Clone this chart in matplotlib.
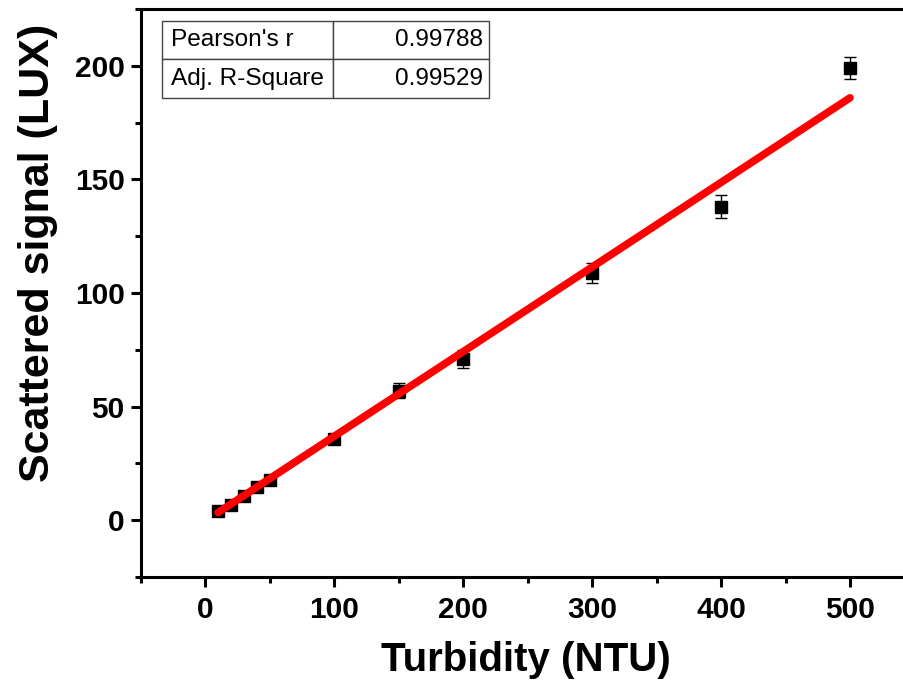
import numpy as np
import matplotlib
matplotlib.use("Agg")
from matplotlib import pyplot as plt
from matplotlib.ticker import MultipleLocator

plt.rcParams['font.family'] = ['Liberation Sans', 'DejaVu Sans']

# data
turbidity = [10, 20, 30, 40, 50, 100, 150, 200, 300, 400, 500]
signal = [4.0, 6.7, 10.8, 14.8, 17.7, 35.6, 57.0, 70.8, 109.0, 138.0, 199.0]
signal_err = [0.6, 0.6, 0.7, 0.7, 0.8, 1.2, 3.2, 4.0, 4.4, 5.0, 4.8]

# linear fit as drawn (Origin, weighted)
fit_slope = 0.3725
fit_intercept = -0.33
fit_range = [10, 500]

stat_names = ["Pearson's r", "Adj. R-Square"]
stat_values = ["0.99788", "0.99529"]

fig = plt.figure(figsize=(9.04, 6.84), dpi=100)
ax = fig.add_axes([0.1556, 0.1564, 0.856, 0.8304])

xf = np.array(fit_range, dtype=float)
ax.plot(xf, fit_slope * xf + fit_intercept, color='#ff0000', lw=5.5,
        solid_capstyle='round', zorder=3)
ax.errorbar(turbidity, signal, yerr=signal_err, fmt='s', color='black',
            ms=8.5, ecolor='black', elinewidth=1.0, capsize=4, capthick=1.0,
            zorder=2)

ax.set_xlim(-50, 550)
ax.set_ylim(-25, 225)
ax.xaxis.set_major_locator(MultipleLocator(100))
ax.xaxis.set_minor_locator(MultipleLocator(50))
ax.yaxis.set_major_locator(MultipleLocator(50))
ax.yaxis.set_minor_locator(MultipleLocator(25))

for s in ax.spines.values():
    s.set_linewidth(2.2)
ax.tick_params(which='major', direction='out', length=7.5, width=2.2,
               labelsize=21.5, pad=4)
ax.tick_params(axis='x', which='major', pad=6)
ax.tick_params(which='minor', direction='out', length=4, width=2.2)
for lab in ax.get_xticklabels() + ax.get_yticklabels():
    lab.set_fontweight('bold')

fig.text(0.582, 0.035, 'Turbidity (NTU)', ha='center', va='center',
         fontsize=29, fontweight='bold')
fig.text(0.042, 0.63, 'Scattered signal (LUX)', ha='center', va='center',
         rotation=90, fontsize=31, fontweight='bold')

tbl = ax.table(cellText=[[n, v] for n, v in zip(stat_names, stat_values)],
               colWidths=[0.523, 0.477], cellLoc='left',
               bbox=[0.0271, 0.8438, 0.423, 0.135])
tbl.auto_set_font_size(False)
for (r, c), cell in tbl.get_celld().items():
    cell.set_edgecolor('#444444')
    cell.set_linewidth(1.0)
    cell.set_text_props(fontsize=17.6)
    if c == 1:
        cell._loc = 'right'
        cell.get_text().set_ha('right')
        cell.PAD = 0.04
    else:
        cell.PAD = 0.055

fig.savefig('out.png', dpi=100)
